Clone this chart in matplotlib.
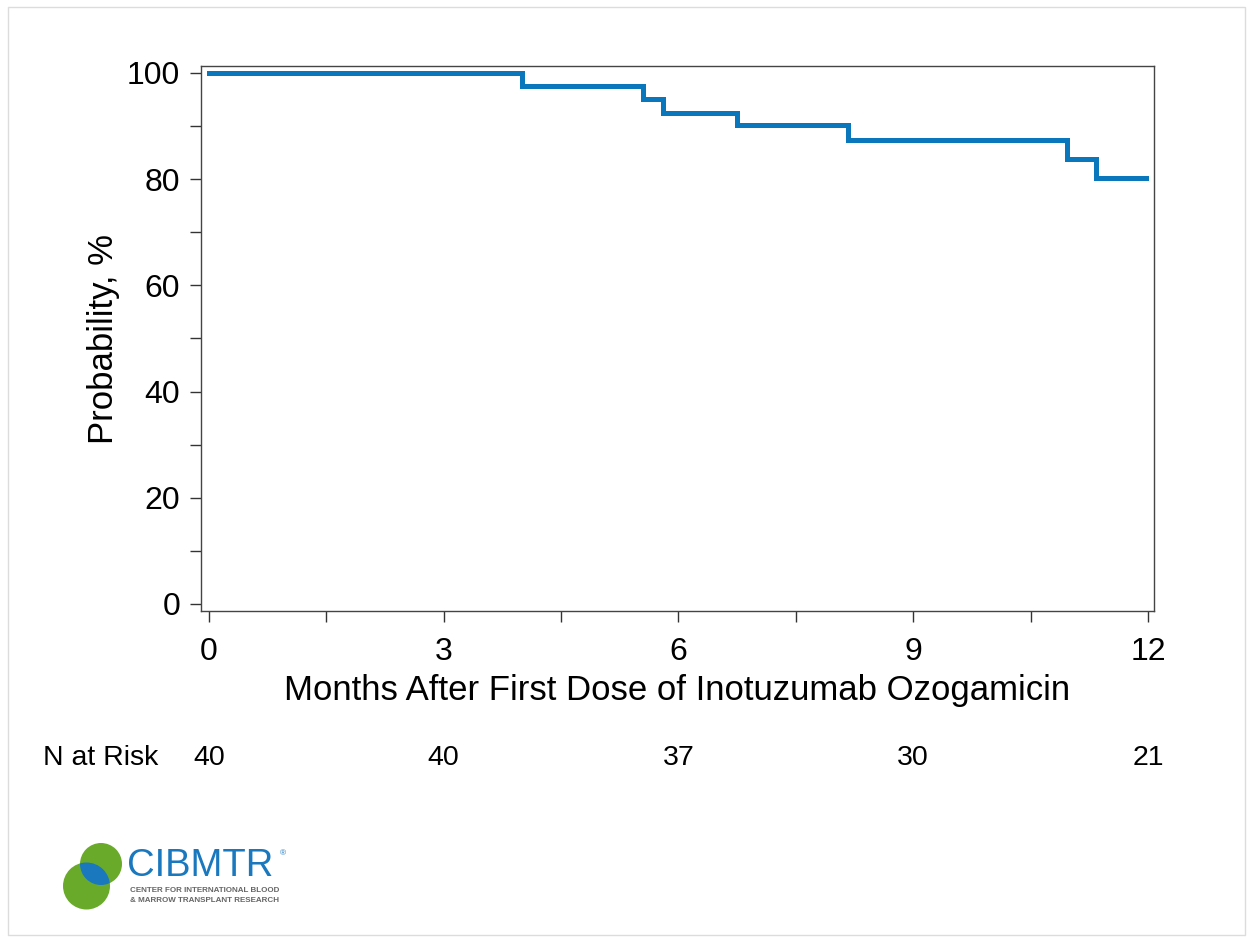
import matplotlib
matplotlib.use("Agg")
import matplotlib.pyplot as plt
from matplotlib.patches import Circle, Rectangle
from matplotlib.ticker import MultipleLocator
from matplotlib.transforms import blended_transform_factory

plt.rcParams['font.family'] = ['Liberation Sans', 'DejaVu Sans']

# ---- data ----
months = [0, 4.0, 5.55, 5.80, 6.75, 8.17, 10.96, 11.34, 11.97]
probability = [100, 97.5, 95.0, 92.5, 90.1, 87.4, 83.8, 80.2, 80.2]
risk_times = [0, 3, 6, 9, 12]
n_at_risk = [40, 40, 37, 30, 21]
x_ticks = [0, 3, 6, 9, 12]
y_ticks = [0, 20, 40, 60, 80, 100]

W, H = 1250, 938
fig = plt.figure(figsize=(W / 100, H / 100), dpi=100)

# full-figure overlay in pixel coords for border and logo
bg = fig.add_axes([0, 0, 1, 1])
bg.set_xlim(0, W)
bg.set_ylim(H, 0)
bg.axis('off')
bg.add_patch(Rectangle((8, 7), 1237, 928, fill=False, edgecolor='#dcdcdc', lw=1))

ax = fig.add_axes([201 / W, 1 - 611 / H, (1154 - 201) / W, (611 - 66) / H])
ax.step(months, probability, where='post', color='#0a77bd', lw=3.6, solid_joinstyle='miter')
ax.set_xlim(-0.102, 12.077)
ax.set_ylim(-1.32, 101.3)
ax.set_xticks(x_ticks)
ax.set_yticks(y_ticks)
ax.xaxis.set_minor_locator(MultipleLocator(1.5))
ax.yaxis.set_minor_locator(MultipleLocator(10))
ax.tick_params(which='both', direction='out', length=8, width=1, color='#333333')
ax.tick_params(axis='both', which='major', labelsize=23)
ax.tick_params(axis='x', which='major', pad=11)
ax.tick_params(axis='y', which='major', pad=7)
for s in ax.spines.values():
    s.set_color('#444444')
    s.set_linewidth(1)
ax.set_xlabel('Months After First Dose of Inotuzumab Ozogamicin', fontsize=25, labelpad=5)
ax.set_ylabel('Probability, %', fontsize=25, labelpad=5)

# N at risk row
tr = blended_transform_factory(ax.transData, fig.transFigure)
yrow = 1 - 758 / H
fig.text(43 / W, yrow, 'N at Risk', fontsize=20.5, ha='left', va='center')
for t, n in zip(risk_times, n_at_risk):
    ax.text(t, yrow, str(n), transform=tr, fontsize=20.5, ha='center', va='center', clip_on=False)

# logo
green = '#6aaa2b'
blue = '#1a78bf'
c1 = Circle((86.5, 886), 23.5, color=green, lw=0)
c2 = Circle((101, 864), 21, color=green, lw=0)
bg.add_patch(c1)
bg.add_patch(c2)
c3 = Circle((101, 864), 21, color=blue, lw=0)
bg.add_patch(c3)
c3.set_clip_path(Circle((86.5, 886), 23.5, transform=bg.transData))
bg.text(127, 866, 'CIBMTR', fontsize=27.5, color='#1a78bf', ha='left', va='center')
bg.text(280, 854, '®', fontsize=6, color='#1a78bf', ha='left', va='center')
bg.text(130, 891, 'CENTER FOR INTERNATIONAL BLOOD', fontsize=5.8, color='#666666', ha='left', va='center', fontweight='bold')
bg.text(130, 900, '& MARROW TRANSPLANT RESEARCH', fontsize=5.8, color='#666666', ha='left', va='center', fontweight='bold')

fig.savefig('out.png', dpi=100)
